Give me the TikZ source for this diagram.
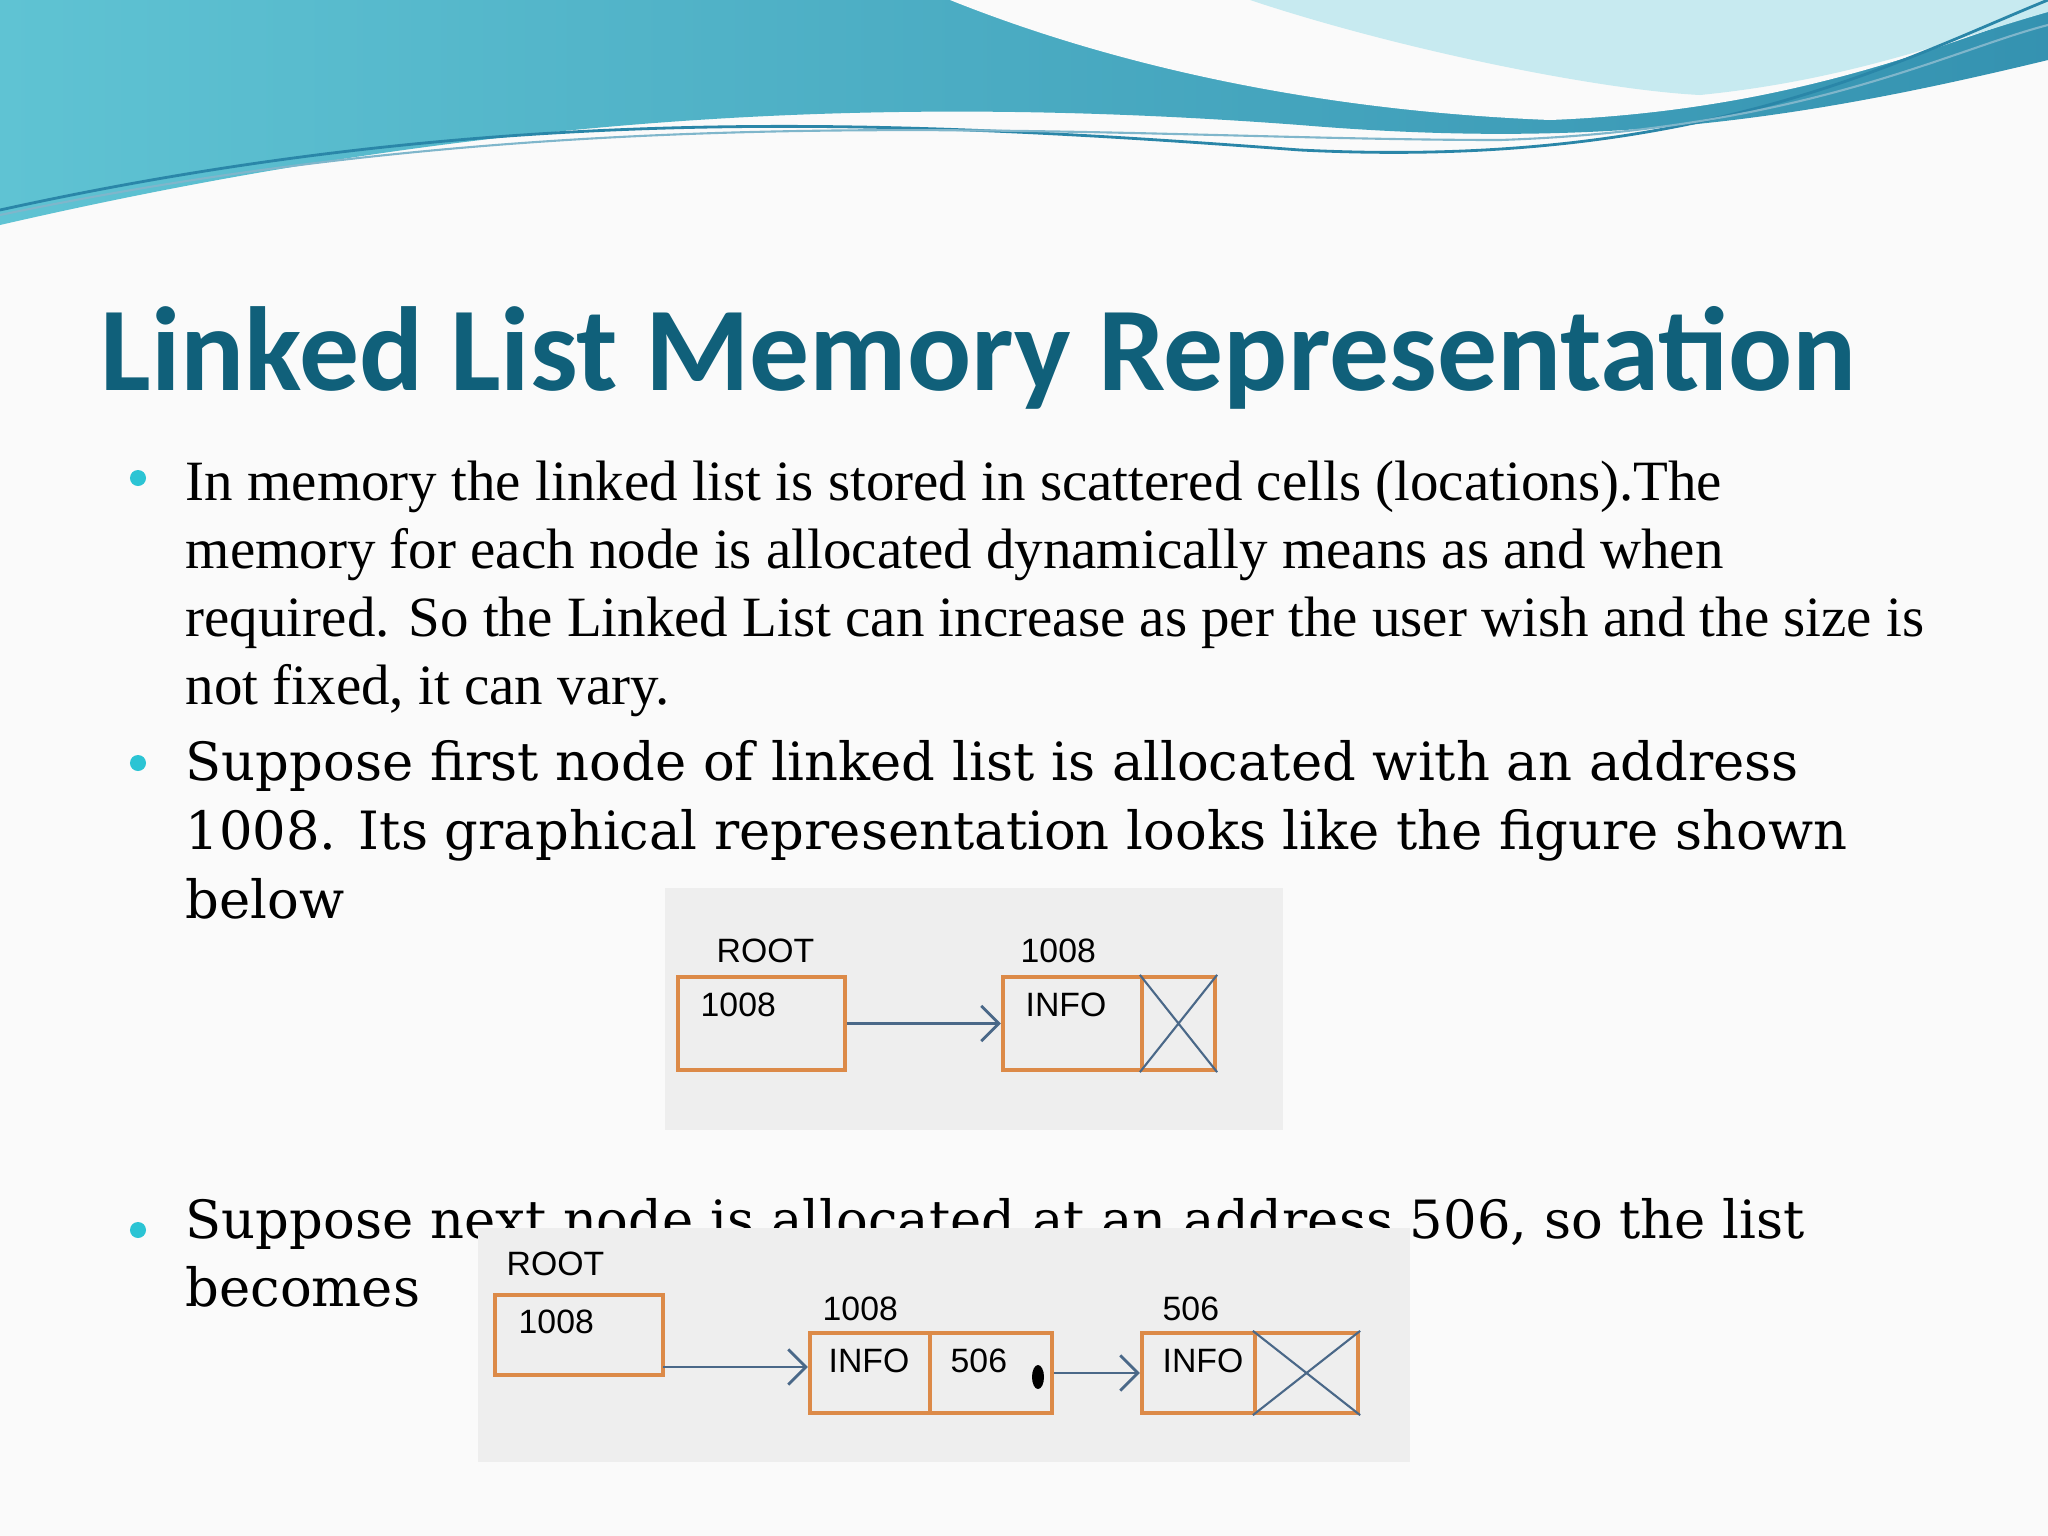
\documentclass[tikz,border=0pt]{standalone}
\usepackage{fontspec}
\usetikzlibrary{arrows.meta}
\setmainfont{Liberation Serif}
\newfontfamily\titlefont{Carlito}
\newfontfamily\bodyfont{DejaVu Serif}
\newfontfamily\figfont{Liberation Sans}
\definecolor{titleblue}{HTML}{10607A}
\definecolor{bulletcyan}{HTML}{2BC4D4}
\definecolor{boxorange}{HTML}{DC8A48}
\definecolor{arrowblue}{HTML}{4A6888}
\definecolor{figgray}{HTML}{EEEEEE}
\definecolor{wavea}{HTML}{5FC3D3}
\definecolor{waveb}{HTML}{2A86A8}
\begin{document}
\begin{tikzpicture}[x=0.01cm,y=-0.01cm,
    cell/.style={draw=boxorange, line width=1.2pt, rectangle, inner sep=0pt},
    lbl/.style={font=\figfont\fontsize{9.6}{10}\selectfont, anchor=base west, inner sep=0pt},
    link/.style={draw=arrowblue, line width=0.8pt, -{Straight Barb[length=5pt]}},
    bullet/.style={circle, fill=bulletcyan, inner sep=0pt, minimum size=0.16cm}]
    % background and top wave
    \fill[white!96!gray] (0,0) rectangle (2048,1536);
    \useasboundingbox (0,0) rectangle (2048,1536);
    \shade[left color=wavea, right color=waveb!80!wavea] (0,0) -- (2048,0) -- (2048,60)
        .. controls (1800,120) and (1600,150) .. (1300,125)
        .. controls (900,95) and (500,110) .. (0,225) -- cycle;
    \fill[white!96!gray] (950,0) .. controls (1100,60) and (1300,110) .. (1550,120)
        .. controls (1800,110) and (1950,40) .. (2048,10) -- (2048,0) -- cycle;
    \fill[wavea!35] (1250,0) .. controls (1400,50) and (1600,90) .. (1700,95)
        .. controls (1850,80) and (1950,40) .. (2048,12) -- (2048,0) -- cycle;
    \draw[waveb, line width=0.8pt] (0,210) .. controls (500,100) and (900,120) .. (1300,150)
        .. controls (1700,170) and (1900,60) .. (2048,0);
    \draw[waveb!60, line width=0.6pt] (0,215) .. controls (600,90) and (1100,140) .. (1500,140)
        .. controls (1800,130) and (1950,50) .. (2048,25);
    % title
    \node[anchor=base west, inner sep=0pt, text=titleblue, font=\titlefont\bfseries\fontsize{34}{34}\selectfont] (title) at (100,390) {Linked List Memory Representation};
    % bullets
    \node[bullet] (b1) at (138,478) {};
    \node[bullet] (b2) at (138,763) {};
    \node[bullet] (b3) at (138,1230) {};
    \node[anchor=north west, inner sep=0pt, align=left, font=\fontsize{16.2}{19.4}\selectfont] (p1) at (185,460)
        {In memory the linked list is stored in scattered cells (locations).The\\
         memory for each node is allocated dynamically means as and when\\
         required. So the Linked List can increase as per the user wish and the size is\\
         not fixed, it can vary.};
    \node[anchor=north west, inner sep=0pt, align=left, font=\bodyfont\fontsize{15}{19.6}\selectfont] (p2) at (185,740)
        {Suppose first node of linked list is allocated with an address\\
         1008. Its graphical representation looks like the figure shown\\
         below};
    \node[anchor=north west, inner sep=0pt, align=left, font=\bodyfont\fontsize{15}{19.2}\selectfont] (p3) at (185,1198)
        {Suppose next node is allocated at an address 506, so the list\\
         becomes};
    % first figure
    \fill[figgray] (665,888) rectangle (1283,1130);
    \node[cell, minimum width=1.67cm, minimum height=0.93cm] (root1) at (761.5,1023.5) {};
    \node[cell, minimum width=1.39cm, minimum height=0.93cm] (info1) at (1072.5,1023.5) {};
    \node[cell, minimum width=0.73cm, minimum height=0.93cm] (null1) at (1178.5,1023.5) {};
    \draw[arrowblue, line width=0.6pt] (null1.north west) -- (null1.south east) (null1.north east) -- (null1.south west);
    \draw[link] (root1.east) -- (info1.west);
    \node[lbl] (rootlbl1) at (716,962) {ROOT};
    \node[lbl] (val1) at (700,1016) {1008};
    \node[lbl] (addr1) at (1020,962) {1008};
    \node[lbl] (infolbl1) at (1025,1016) {INFO};
    % second figure
    \fill[figgray] (478,1228) rectangle (1410,1462);
    \node[cell, minimum width=1.68cm, minimum height=0.8cm] (root2) at (579,1335) {};
    \node[cell, minimum width=1.2cm, minimum height=0.8cm] (info2) at (870,1373) {};
    \node[cell, minimum width=1.22cm, minimum height=0.8cm] (next2) at (991,1373) {};
    \node[cell, minimum width=1.13cm, minimum height=0.8cm] (info3) at (1198.5,1373) {};
    \node[cell, minimum width=1.03cm, minimum height=0.8cm] (null3) at (1306.5,1373) {};
    \draw[arrowblue, line width=0.6pt] (null3.north west) -- (null3.south east) (null3.north east) -- (null3.south west);
    \fill[black] (1038,1377) ellipse (6 and 12);
    \coordinate (r2out) at (663,1367);
    \draw[link] (r2out) -- (info2.west |- r2out);
    \draw[link] (next2.east) -- (info3.west);
    \node[lbl] (rootlbl2) at (506,1275) {ROOT};
    \node[lbl] (val2) at (518,1333) {1008};
    \node[lbl] (addr2) at (822,1320) {1008};
    \node[lbl] (infolbl2) at (828,1372) {INFO};
    \node[lbl] (ptr2) at (950,1372) {506};
    \node[lbl] (addr3) at (1162,1320) {506};
    \node[lbl] (infolbl3) at (1162,1372) {INFO};
\end{tikzpicture}
\end{document}
